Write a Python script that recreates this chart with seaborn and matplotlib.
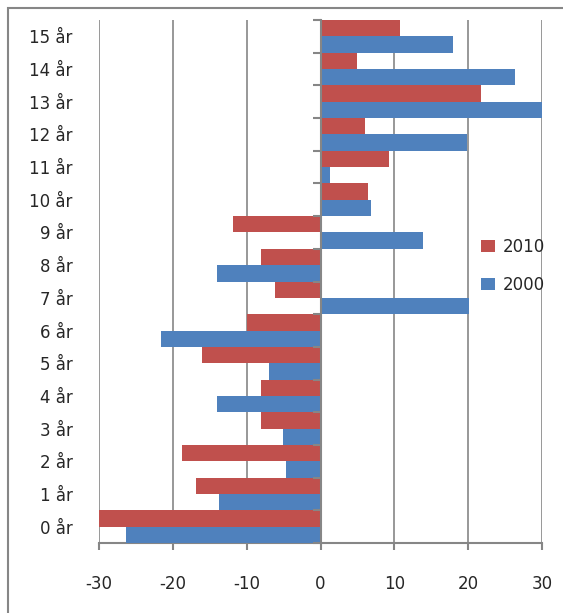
import pandas as pd
import seaborn as sns
import matplotlib.pyplot as plt
from matplotlib.patches import Rectangle

# ------------------------------
# Data
# ------------------------------

ages = ["15 år", "14 år", "13 år", "12 år", "11 år", "10 år", "9 år", "8 år",
        "7 år", "6 år", "5 år", "4 år", "3 år", "2 år", "1 år", "0 år"]
v2010 = [10.7, 4.9, 21.7, 6.0, 9.3, 6.4, -11.8, -8.0,
         -6.2, -9.9, -16.1, -8.0, -8.1, -18.8, -16.8, -30.0]
v2000 = [18.0, 26.3, 30.0, 19.9, 1.3, 6.8, 13.9, -14.0,
         20.1, -21.6, -7.0, -14.0, -5.1, -4.7, -13.8, -26.4]
years = ["2010", "2000"]
colors = ["#C0504D", "#4F81BD"]

df = pd.DataFrame({
    "age": ages * 2,
    "value": v2010 + v2000,
    "year": ["2010"] * len(ages) + ["2000"] * len(ages),
})

sns.set_style("white")
plt.rcParams["font.family"] = ["DejaVu Sans"]
plt.rcParams["axes.unicode_minus"] = False

fig = plt.figure(figsize=(5.63, 6.13), dpi=100)
ax = fig.add_axes([99 / 563, 1 - 543 / 613, 443 / 563, 523 / 613])

sns.barplot(
    data=df, x="value", y="age", hue="year",
    order=ages, hue_order=years, palette=colors, saturation=1,
    orient="h", width=1.0, dodge=True, errorbar=None,
    linewidth=0, ax=ax, zorder=3,
)

grid_c = "#868686"
ax.set_xlim(-30, 30)
ax.set_ylim(len(ages) - 0.5, -0.5)
ax.set_xticks(range(-30, 31, 10))
ax.grid(axis="x", color=grid_c, linewidth=1.2, zorder=0)
ax.grid(axis="y", visible=False)
ax.set_axisbelow(True)
for s in ["left", "right", "top"]:
    ax.spines[s].set_visible(False)
ax.spines["bottom"].set_color(grid_c)
ax.spines["bottom"].set_linewidth(1.5)
ax.tick_params(axis="x", direction="out", length=5, width=1.5, color=grid_c,
               pad=18, labelsize=12, bottom=True)
ax.tick_params(axis="y", length=0, pad=19, labelsize=12)
ax.set_xlabel("")
ax.set_ylabel("")

# vertical axis at zero with ticks between categories
sec = ax.secondary_yaxis(0.5)
sec.set_yticks([i + 0.5 for i in range(-1, len(ages))])
sec.set_yticklabels([])
sec.tick_params(direction="in", length=6, width=1.5, color=grid_c)
for s in sec.spines.values():
    s.set_color(grid_c)
    s.set_linewidth(1.5)
sec.set_zorder(4)

ax.legend(
    loc="center", bbox_to_anchor=(0.935, 0.53), frameon=False,
    fontsize=12, handlelength=0.8, handleheight=0.8, handletextpad=0.5,
    labelspacing=1.2,
)

# outer chart border (top and left visible)
fig.add_artist(Rectangle((8 / 563, -0.1), 1.2, 1.1 - 8 / 613,
                         transform=fig.transFigure, fill=False,
                         edgecolor=grid_c, linewidth=1.5))

fig.savefig("out.png", dpi=100)
